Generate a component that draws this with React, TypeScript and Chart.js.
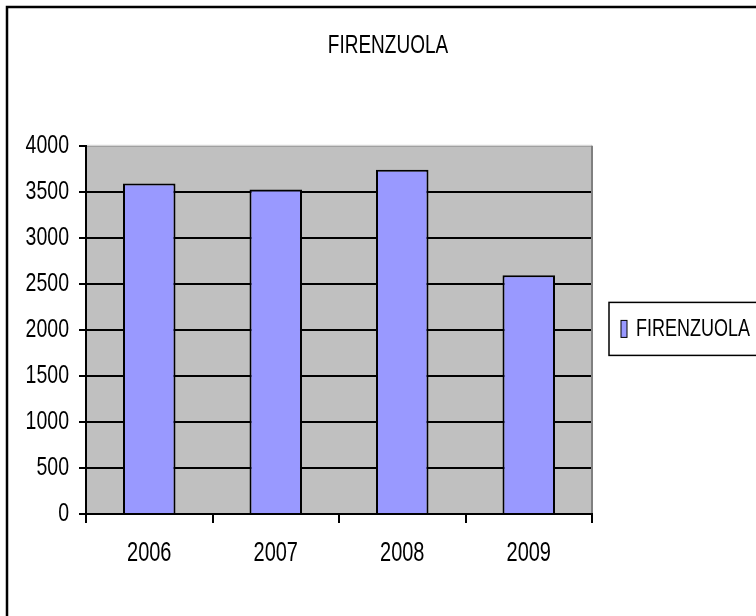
import { useEffect, useRef } from 'react';
import { Chart, registerables } from 'chart.js';

Chart.register(...registerables);

const titleText = 'FIRENZUOLA';
const categories = ['2006', '2007', '2008', '2009'];
const seriesName = 'FIRENZUOLA';
const seriesValues = [3590, 3525, 3740, 2595];
const yTickValues = [0, 500, 1000, 1500, 2000, 2500, 3000, 3500, 4000];

const FONT = "'Liberation Sans', Arial, sans-serif";
const BAR_COLOR = '#9999FF';
const PLOT_BG = '#C0C0C0';
const TEXT_STRETCH = 1.35;

// Draws every canvas text slightly taller (the reference uses a tall, narrow face)
const tallTextPlugin = {
  id: 'tallText',
  beforeDraw(chart: any) {
    const ctx: any = chart.ctx;
    if (ctx.__tallText) return;
    const orig = ctx.fillText.bind(ctx);
    ctx.fillText = (text: string, x: number, y: number, maxWidth?: number) => {
      ctx.save();
      ctx.translate(x, y);
      ctx.scale(1, TEXT_STRETCH);
      if (maxWidth !== undefined) orig(text, 0, 0, maxWidth);
      else orig(text, 0, 0);
      ctx.restore();
    };
    ctx.__tallText = true;
  },
};

const framePlugin = {
  id: 'frame',
  beforeDraw(chart: any) {
    const { ctx, chartArea: a } = chart;
    ctx.save();
    ctx.fillStyle = PLOT_BG;
    ctx.fillRect(a.left, a.top, a.right - a.left, a.bottom - a.top);
    ctx.restore();
  },
  afterDraw(chart: any) {
    const { ctx, chartArea: a } = chart;
    ctx.save();
    // plot area top and right edges
    ctx.lineWidth = 2;
    ctx.strokeStyle = '#D6D6D6';
    ctx.beginPath();
    ctx.moveTo(a.left + 1, a.top);
    ctx.lineTo(a.right, a.top);
    ctx.stroke();
    ctx.strokeStyle = '#808080';
    ctx.beginPath();
    ctx.moveTo(a.right, a.top);
    ctx.lineTo(a.right, a.bottom - 1);
    ctx.stroke();
    // outer frame (only top/left visible)
    ctx.strokeStyle = '#000';
    ctx.lineWidth = 2.5;
    ctx.strokeRect(7, 7, chart.width + 20, chart.height + 20);
    // legend
    const ds = chart.data.datasets[0];
    const cy = (a.top + a.bottom) / 2 - 1;
    const lx = a.right + 17;
    ctx.lineWidth = 1.5;
    ctx.strokeStyle = '#000';
    ctx.strokeRect(lx, cy - 26.5, 200, 53);
    ctx.fillStyle = ds.backgroundColor;
    ctx.fillRect(lx + 12, cy - 8.5, 6, 17);
    ctx.lineWidth = 1;
    ctx.strokeRect(lx + 12, cy - 8.5, 6, 17);
    ctx.fillStyle = '#000';
    ctx.font = `18px ${FONT}`;
    ctx.textBaseline = 'middle';
    ctx.textAlign = 'left';
    ctx.fillText(ds.label, lx + 27, cy);
    ctx.restore();
  },
};

export default function App() {
  const ref = useRef<HTMLCanvasElement>(null);
  useEffect(() => {
    const canvas = ref.current;
    if (!canvas) return;
    const chart = new Chart(canvas, {
      type: 'bar',
      data: {
        labels: categories,
        datasets: [
          {
            label: seriesName,
            data: seriesValues,
            backgroundColor: BAR_COLOR,
            borderColor: '#000',
            borderWidth: 2,
            categoryPercentage: 1,
            barPercentage: 0.415,
            yAxisID: 'y',
          },
        ],
      },
      options: {
        animation: false,
        responsive: false,
        maintainAspectRatio: false,
        layout: { padding: { left: 20, right: 0, top: 0, bottom: 0 } },
        plugins: {
          legend: { display: false },
          tooltip: { enabled: false },
          title: {
            display: true,
            text: titleText,
            color: '#000',
            font: { family: FONT, size: 19, weight: 'normal' },
            padding: { top: 35, bottom: 88 },
          },
        },
        scales: {
          x: {
            type: 'category',
            grid: {
              offset: true,
              drawOnChartArea: false,
              drawTicks: true,
              tickLength: 9,
              color: '#000',
              lineWidth: 2,
            },
            border: { display: true, color: '#000', width: 2 },
            ticks: { color: '#000', font: { family: FONT, size: 20 }, padding: 19, maxRotation: 0 },
            afterFit: (s: any) => {
              s.height = 102;
            },
          },
          y: {
            type: 'linear',
            position: 'left',
            min: 0,
            max: 4000,
            afterBuildTicks: (s: any) => {
              s.ticks = yTickValues.map((v) => ({ value: v }));
            },
            grid: { color: '#000', lineWidth: 2, tickLength: 7, drawTicks: true },
            border: { display: true, color: '#000', width: 2 },
            ticks: {
              color: '#000',
              font: { family: FONT, size: 19.5 },
              padding: 10,
              callback: (v: any) => String(v),
            },
            afterFit: (s: any) => {
              s.width = 66;
            },
          },
          yR: {
            type: 'linear',
            position: 'right',
            display: true,
            grid: { display: false },
            border: { display: false },
            ticks: { display: false },
            afterFit: (s: any) => {
              s.width = 164;
            },
          },
        },
      },
      plugins: [tallTextPlugin, framePlugin],
    });
    return () => chart.destroy();
  }, []);
  return (
    <div style={{ position: 'absolute', left: 0, top: 0, width: 756, height: 616, background: '#fff' }}>
      <canvas ref={ref} width={756} height={616} style={{ display: 'block', width: 756, height: 616 }} />
    </div>
  );
}
